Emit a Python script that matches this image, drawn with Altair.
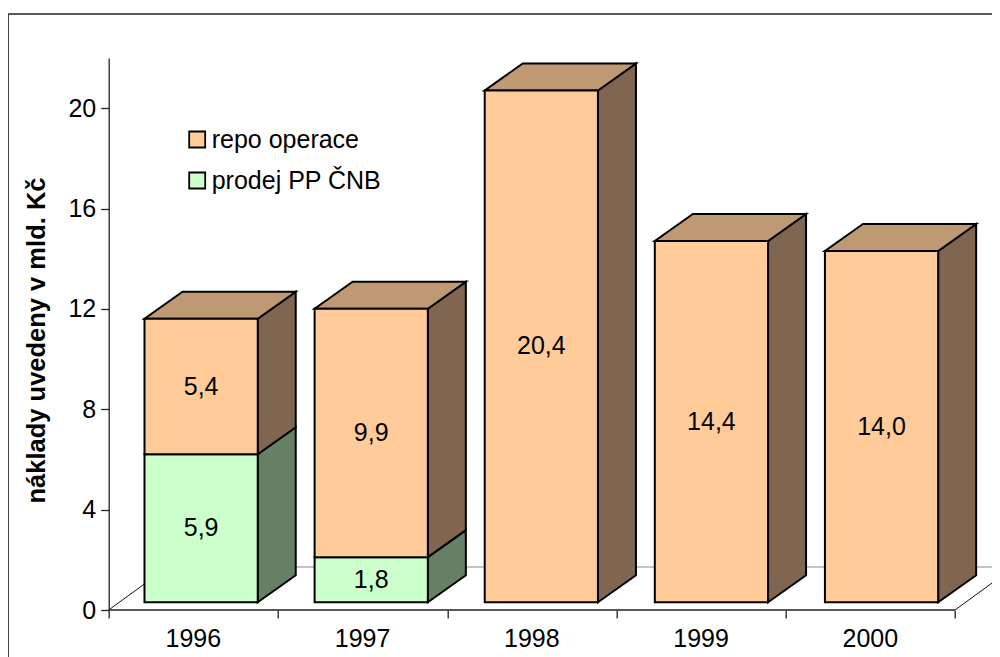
import altair as alt
import pandas as pd

years = ["1996", "1997", "1998", "1999", "2000"]
repo = [5.4, 9.9, 20.4, 14.4, 14.0]
repo_labels = ["5,4", "9,9", "20,4", "14,4", "14,0"]
prodej = [5.9, 1.8, 0.0, 0.0, 0.0]
prodej_labels = ["5,9", "1,8", "", "", ""]
s_repo = "repo operace"
s_prodej = "prodej PP ČNB"

FONT = "Liberation Sans"
BAR0, BARW, BARSTEP = 0.2115, 0.669, 1.005
DX, DY, BASE = 0.2245, 1.076, 0.307
FLOOR_X, FLOOR_Y = 0.3486, 1.714
PLOT_W = 883.3
XMAX = PLOT_W / 169.26

X = alt.Scale(domain=[0, XMAX], nice=False, zero=False)
Y = alt.Scale(domain=[0, 22], nice=False, zero=False)
x_ = lambda f="x", **k: alt.X(f"{f}:Q", scale=X, **k)
y_ = lambda f="y", **k: alt.Y(f"{f}:Q", scale=Y, **k)

fronts, sides, tops, labels = [], [], [], []
for i, yr in enumerate(years):
    l = BAR0 + i * BARSTEP
    r = l + BARW
    segs = []
    if prodej[i] > 0:
        segs.append((s_prodej, BASE, BASE + prodej[i], prodej_labels[i]))
    start = BASE + prodej[i]
    segs.append((s_repo, start, start + repo[i], repo_labels[i]))
    for n, (s, b, t, lab) in enumerate(segs):
        fronts.append(dict(x=l, x2=r, y=b, y2=t, series=s))
        labels.append(dict(x=(l + r) / 2, y=(b + t) / 2, label=lab))
        fid = f"{yr}-{n}"
        sides.append(dict(face=fid, series=s, x=r, y=b, y2=t))
        sides.append(dict(face=fid, series=s, x=r + DX, y=b + DY, y2=t + DY))
    top = segs[-1][2]
    tops.append(dict(face=yr, y=top, x=l, x2=r))
    tops.append(dict(face=yr, y=top + DY, x=l + DX, x2=r + DX))

fronts, sides, tops, labels = map(pd.DataFrame, (fronts, sides, tops, labels))
EDGE = dict(stroke="black", strokeWidth=2)

frame_top = alt.Chart(pd.DataFrame({"a": [0]})).mark_rule(color="#222", strokeWidth=1.3).encode(
    x=alt.value(-100.5), x2=alt.value(895), y=alt.value(-44))
frame_left = alt.Chart(pd.DataFrame({"a": [0]})).mark_rule(color="#222", strokeWidth=1.3).encode(
    x=alt.value(-100.5), y=alt.value(-44), y2=alt.value(600))

floor = pd.DataFrame([
    dict(x=0, y=0, x2=FLOOR_X, y2=FLOOR_Y, c="#111111"),
    dict(x=5, y=0, x2=5 + FLOOR_X, y2=FLOOR_Y, c="#111111"),
    dict(x=FLOOR_X, y=FLOOR_Y, x2=XMAX, y2=FLOOR_Y, c="#888888"),
])
floor_l = alt.Chart(floor).mark_rule(strokeWidth=1, clip=True).encode(
    x=x_(), y=y_(), x2="x2:Q", y2="y2:Q", color=alt.Color("c:N", scale=None))

axis_line = alt.Chart(pd.DataFrame({"x": [0], "x2": [5], "y": [0]})).mark_rule(
    color="#222", strokeWidth=1.3).encode(x=x_(), x2="x2:Q", y=y_())

axes = alt.Chart(pd.DataFrame({"x": [0], "y": [0]})).mark_point(opacity=0).encode(
    x=x_(axis=alt.Axis(values=[0, 1, 2, 3, 4, 5], labels=False, title=None, domain=False,
                       ticks=True, tickSize=8, tickColor="#222", tickWidth=1.3, grid=False)),
    y=y_(axis=alt.Axis(values=[0, 4, 8, 12, 16, 20], format="d", title="náklady uvedeny v mld. Kč",
                       titleFont=FONT, titleFontSize=25.5, titleFontWeight="bold", titleColor="black",
                       titleX=-59, titleY=282, labelFont=FONT, labelFontSize=25, labelColor="black",
                       labelPadding=5, tickSize=8, tickColor="#222", tickWidth=1.3,
                       domainColor="#222", domainWidth=1.3, grid=False)),
)

side_layers = []
for s, c in ((s_prodej, "#668066"), (s_repo, "#806650")):
    side_layers.append(
        alt.Chart(sides[sides.series == s]).mark_area(fill=c, **EDGE).encode(
            x=x_(), y=y_(), y2="y2:Q", detail="face:N"))

top_l = alt.Chart(tops).mark_area(fill="#BF9973", orient="horizontal", **EDGE).encode(
    y=y_(), x=x_(), x2="x2:Q", detail="face:N")

front_l = alt.Chart(fronts).mark_rect(**EDGE).encode(
    x=x_(), x2="x2:Q", y=y_(), y2="y2:Q",
    color=alt.Color("series:N", scale=alt.Scale(domain=[s_repo, s_prodej], range=["#FFCC99", "#CCFFCC"]),
                    legend=alt.Legend(title=None, orient="none", legendX=76, legendY=69,
                                      symbolType="square", symbolSize=256, symbolStrokeColor="black",
                                      symbolStrokeWidth=1.8, labelFont=FONT, labelFontSize=25,
                                      labelColor="black", labelOffset=2, rowPadding=15, labelLimit=300)))

text_l = alt.Chart(labels).mark_text(font=FONT, fontSize=25, color="black").encode(
    x=x_(), y=y_(), text="label:N")

year_df = pd.DataFrame({"x": [i + 0.5 for i in range(5)], "label": years})
year_l = alt.Chart(year_df).mark_text(font=FONT, fontSize=25, color="black", baseline="middle").encode(
    x=x_(), y=alt.value(581), text="label:N")

chart = alt.layer(
    frame_top, frame_left, axes, floor_l, axis_line, *side_layers, top_l, front_l, text_l, year_l
).properties(
    width=PLOT_W, height=552, autosize="none", background="white",
    padding={"left": 100.7, "top": 50, "right": 0, "bottom": 47},
).configure_view(stroke=None)

chart.save("out.html", embed_options={"renderer": "svg", "actions": False})
